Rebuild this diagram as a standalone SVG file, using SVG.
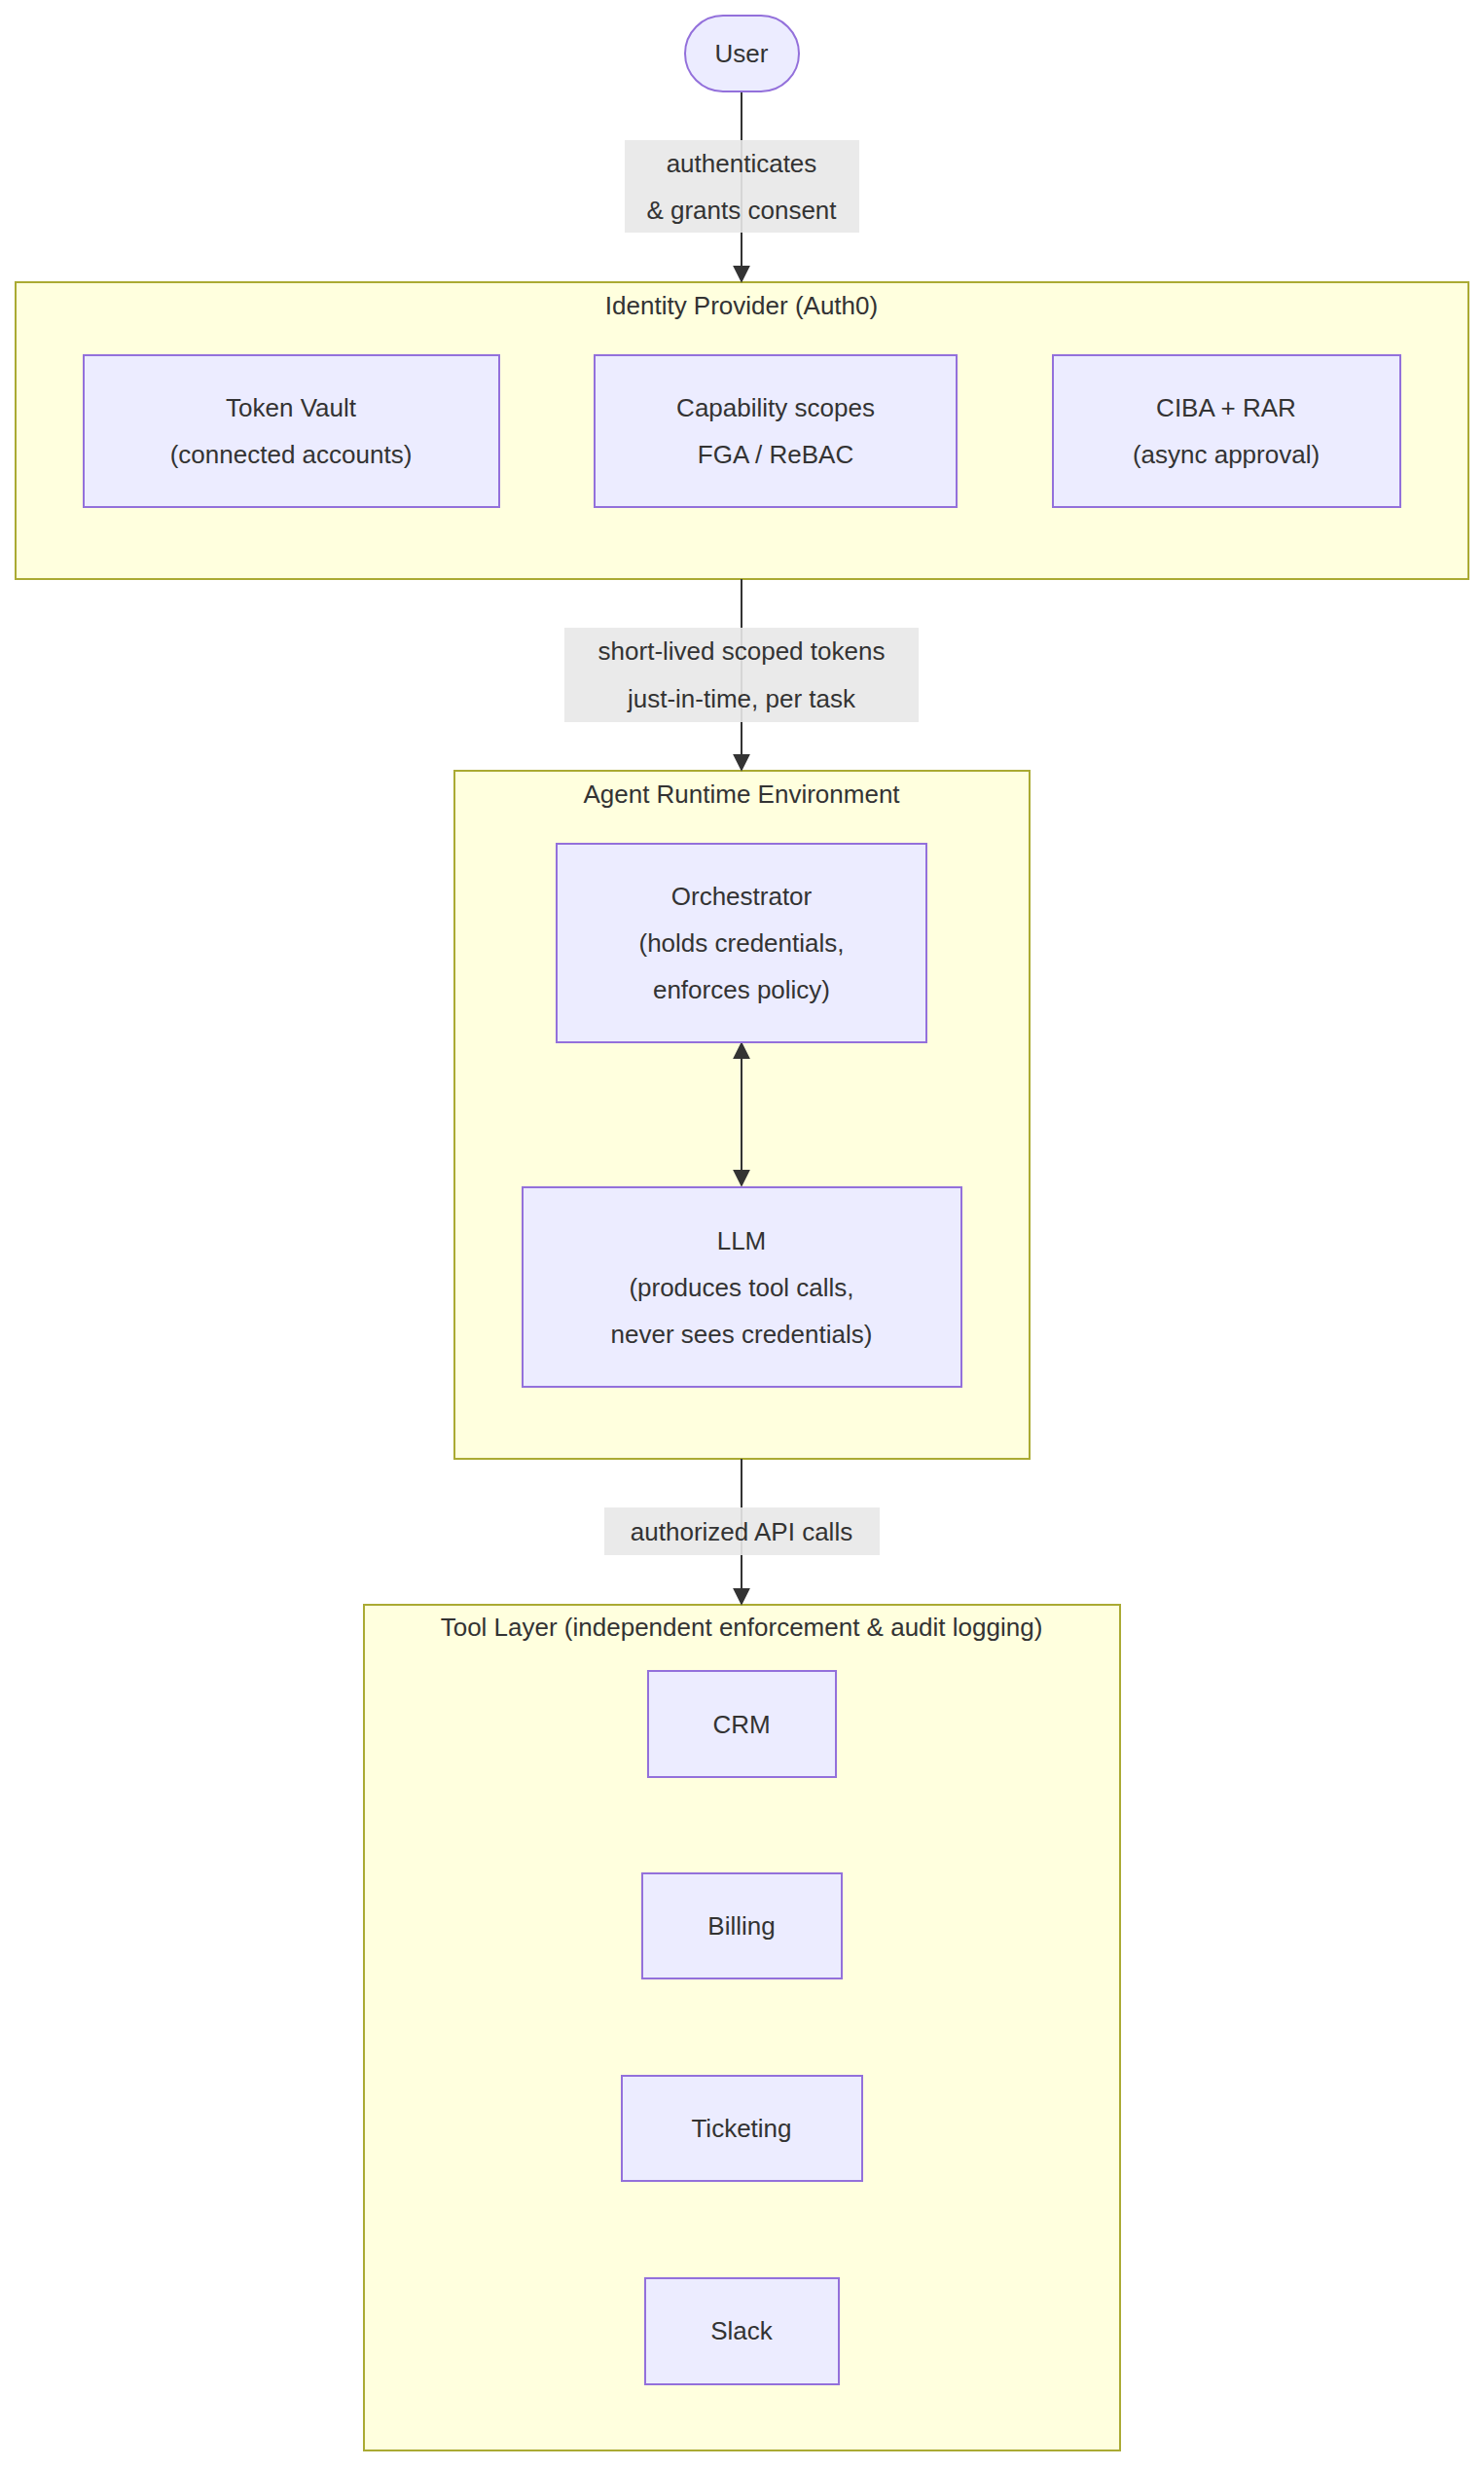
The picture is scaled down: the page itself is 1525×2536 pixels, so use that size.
<svg xmlns="http://www.w3.org/2000/svg" width="1525" height="2536" viewBox="0 0 1525 2536">
<style>
text{font-family:"Liberation Sans",Arial,sans-serif;font-size:26px;fill:#333;text-anchor:middle}
.c{fill:#ffffde;stroke:#aaaa33;stroke-width:2}
.n{fill:#ececff;stroke:#9370db;stroke-width:2}
.l{fill:#e8e8e8;opacity:0.9}
.e{stroke:#333;stroke-width:2;fill:none}
</style>
<defs><marker id="a" viewBox="0 0 10 10" refX="9" refY="5" markerWidth="8" markerHeight="8" orient="auto-start-reverse" markerUnits="userSpaceOnUse"><path d="M0,0L10,5L0,10z" fill="#333"/></marker>
<marker id="ah" viewBox="0 0 10 10" refX="9" refY="5" markerWidth="18" markerHeight="18" orient="auto-start-reverse" markerUnits="userSpaceOnUse"><path d="M0,0L10,5L0,10z" fill="#333"/></marker></defs>
<g id="idp"><rect class="c" x="16" y="290" width="1493" height="305"/><text x="762" y="323">Identity Provider (Auth0)</text></g>
<g id="agent"><rect class="c" x="467" y="792" width="591" height="707"/><text x="762" y="825">Agent Runtime Environment</text></g>
<g id="tools"><rect class="c" x="374" y="1649" width="777" height="869"/><text x="762" y="1681">Tool Layer (independent enforcement &amp; audit logging)</text></g>
<g id="edges">
<path class="e" d="M762,94V289" marker-end="url(#ah)"/>
<path class="e" d="M762,595V791" marker-end="url(#ah)"/>
<path class="e" d="M762,1072V1218" marker-start="url(#ah)" marker-end="url(#ah)"/>
<path class="e" d="M762,1499V1648" marker-end="url(#ah)"/>
<rect class="l" x="642" y="144" width="241" height="95"/><text x="762" y="177">authenticates</text><text x="762" y="225">&amp; grants consent</text>
<rect class="l" x="580" y="645" width="364" height="97"/><text x="762" y="678">short-lived scoped tokens</text><text x="762" y="727">just-in-time, per task</text>
<rect class="l" x="621" y="1549" width="283" height="49"/><text x="762" y="1583">authorized API calls</text>
</g>
<g id="user"><rect class="n" x="704" y="16" width="117" height="78" rx="39"/><text x="762" y="64">User</text></g>
<g id="vault"><rect class="n" x="86" y="365" width="427" height="156"/><text x="299" y="428">Token Vault</text><text x="299" y="476">(connected accounts)</text></g>
<g id="caps"><rect class="n" x="611" y="365" width="372" height="156"/><text x="797" y="428">Capability scopes</text><text x="797" y="476">FGA / ReBAC</text></g>
<g id="ciba"><rect class="n" x="1082" y="365" width="357" height="156"/><text x="1260" y="428">CIBA + RAR</text><text x="1260" y="476">(async approval)</text></g>
<g id="orch"><rect class="n" x="572" y="867" width="380" height="204"/><text x="762" y="930">Orchestrator</text><text x="762" y="978">(holds credentials,</text><text x="762" y="1026">enforces policy)</text></g>
<g id="llm"><rect class="n" x="537" y="1220" width="451" height="205"/><text x="762" y="1284">LLM</text><text x="762" y="1332">(produces tool calls,</text><text x="762" y="1380">never sees credentials)</text></g>
<g id="crm"><rect class="n" x="666" y="1717" width="193" height="109"/><text x="762" y="1781">CRM</text></g>
<g id="billing"><rect class="n" x="660" y="1925" width="205" height="108"/><text x="762" y="1988">Billing</text></g>
<g id="ticketing"><rect class="n" x="639" y="2133" width="247" height="108"/><text x="762" y="2196">Ticketing</text></g>
<g id="slack"><rect class="n" x="663" y="2341" width="199" height="109"/><text x="762" y="2404">Slack</text></g>
</svg>
